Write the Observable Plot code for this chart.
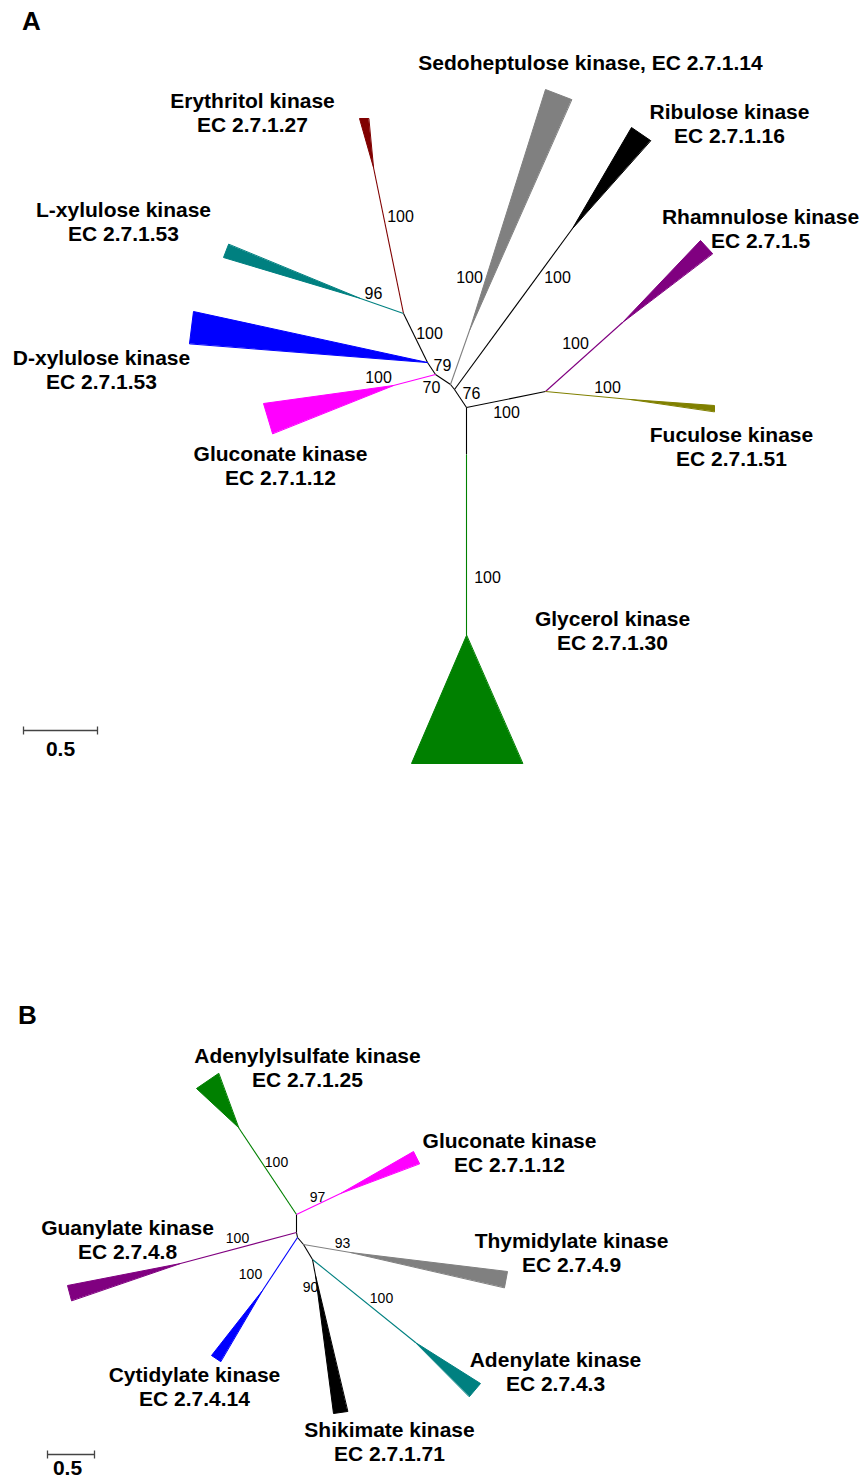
<!DOCTYPE html>
<html>
<head>
<meta charset="utf-8">
<script src="https://cdn.jsdelivr.net/npm/d3@7"></script>
<script src="https://cdn.jsdelivr.net/npm/@observablehq/plot@0.6"></script>
<style>
  html, body { margin: 0; padding: 0; background: #fff; }
  #chart svg { display: block; }
</style>
</head>
<body>
<div id="chart"></div>
<script>
// ---- clade categories and colours ----
const cladeKeys   = ["internal","ery","lxyl","dxyl","glucA","sed","rib","rham","fuc","gly",
                     "adsulf","glucB","guan","cyt","thym","aden","shik"];
const cladeColors = ["#000000","#800000","#008080","#0000ff","#ff00ff","#808080","#000000","#800080","#808000","#008000",
                     "#008000","#ff00ff","#800080","#0000ff","#808080","#008080","#000000"];

// ---- tree node layout (panel A and B) [id, x, y] ----
const nodes = [
  ["R",466,407],["G1",466,454],["Gtip",466,635],["F",545,391],["RhTip",622,322],["FuTip",630,399],
  ["N76",454,389],["RibTip",572,228],["Nsed",450,384],["SedTip",469,330],["N70",435,374],["GlTip",393,385],
  ["N79",427,362],["N100",403,313],["EryTip",373,167],["LxTip",360,298],
  ["B1",296,1214],["B2",296,1232],["B3",297,1237],["B4",303,1244],["B5",312,1259],
  ["AsTip",238,1127],["GbTip",340,1193],["GuTip",180,1263],["CyTip",262,1290],["ThTip",350,1252],
  ["AdTip",415,1342],["ShTip",315,1275]
];

// ---- branches [from, to, clade] ----
const branches = [
  ["R","G1","internal"],["R","F","internal"],["R","N76","internal"],["N76","Nsed","internal"],
  ["Nsed","N70","internal"],["N70","N79","internal"],["N79","N100","internal"],
  ["G1","Gtip","gly"],["F","RhTip","rham"],["F","FuTip","fuc"],["N76","RibTip","rib"],
  ["Nsed","SedTip","sed"],["N70","GlTip","glucA"],["N100","EryTip","ery"],["N100","LxTip","lxyl"],
  ["B1","B2","internal"],["B2","B3","internal"],["B3","B4","internal"],["B4","B5","internal"],
  ["B1","AsTip","adsulf"],["B1","GbTip","glucB"],["B2","GuTip","guan"],["B3","CyTip","cyt"],
  ["B4","ThTip","thym"],["B5","AdTip","aden"],["B5","ShTip","shik"]
];

// ---- collapsed clades: [clade, apex node, corner1 x,y, corner2 x,y] ----
const clades = [
  ["gly","Gtip",411,763,522,763],["rham","RhTip",700,240,712,253],["fuc","FuTip",714,405,714,411],
  ["rib","RibTip",631,127,650,140],["sed","SedTip",545,89,571,99],["glucA","GlTip",263,403,272,433],
  ["dxyl","N79",193,311,189,343],["ery","EryTip",359,118,368,118],["lxyl","LxTip",223,257,228,244],
  ["adsulf","AsTip",196,1088,218,1073],["glucB","GbTip",413,1151,419,1163],["guan","GuTip",67,1285,71,1300],
  ["cyt","CyTip",211,1355,220,1361],["thym","ThTip",507,1271,504,1287],["aden","AdTip",480,1383,469,1396],
  ["shik","ShTip",333,1413,347,1411]
];

// ---- clade names [text, x, y] ----
const cladeLabels = [
  ["Sedoheptulose kinase, EC 2.7.1.14",590,63],
  ["Erythritol kinase\nEC 2.7.1.27",252,113],
  ["Ribulose kinase\nEC 2.7.1.16",729,123.5],
  ["L-xylulose kinase\nEC 2.7.1.53",123,222],
  ["Rhamnulose kinase\nEC 2.7.1.5",760,229],
  ["D-xylulose kinase\nEC 2.7.1.53",101,370],
  ["Gluconate kinase\nEC 2.7.1.12",280,466],
  ["Fuculose kinase\nEC 2.7.1.51",731,447],
  ["Glycerol kinase\nEC 2.7.1.30",612,631],
  ["Adenylylsulfate kinase\nEC 2.7.1.25",307,1068],
  ["Gluconate kinase\nEC 2.7.1.12",509,1153],
  ["Guanylate kinase\nEC 2.7.4.8",127,1240],
  ["Thymidylate kinase\nEC 2.7.4.9",571,1253],
  ["Cytidylate kinase\nEC 2.7.4.14",194,1387],
  ["Adenylate kinase\nEC 2.7.4.3",555,1372],
  ["Shikimate kinase\nEC 2.7.1.71",389,1442]
];

// ---- bootstrap values [value, x, y] ----
const bootA = [
  ["100",400,216],["96",373,293],["100",429,333],["79",442,365],["70",431,387],["76",471,393],
  ["100",469,277],["100",557,277],["100",575,343],["100",607,387],["100",506,412],["100",487,577],
  ["100",378,377]
];
const bootB = [
  ["100",276,1162],["97",317,1197],["100",237,1238],["93",342,1243],["100",250,1274],["90",310,1287],
  ["100",381,1298]
];

// ---- panel letters and scale bars ----
const panels = [["A",31,21],["B",27,1015]];
const scaleBars = [
  {x1:23, x2:97, y:730, label:"0.5", lx:60, ly:749},
  {x1:47, x2:94, y:1454, label:"0.5", lx:67, ly:1468}
];

// ---- build tables for the marks ----
const pos = new Map(nodes.map(([id,x,y]) => [id,{x,y}]));
const links = branches.map(([a,b,c]) => ({x1:pos.get(a).x, y1:pos.get(a).y, x2:pos.get(b).x, y2:pos.get(b).y, clade:c}));
const triPts = clades.flatMap(([c,apex,x1,y1,x2,y2],i) => [
  {id:i, clade:c, x:pos.get(apex).x, y:pos.get(apex).y},
  {id:i, clade:c, x:x1, y:y1},
  {id:i, clade:c, x:x2, y:y2}
]);
const labels = cladeLabels.map(([t,x,y]) => ({t,x,y}));
const bA = bootA.map(([t,x,y]) => ({t,x,y}));
const bB = bootB.map(([t,x,y]) => ({t,x,y}));
const pl = panels.map(([t,x,y]) => ({t,x,y}));

const font = "Liberation Sans, Arial, Helvetica, sans-serif";

const chart = Plot.plot({
  width: 864,
  height: 1479,
  margin: 0,
  style: {background: "#fff", fontFamily: font},
  x: {domain: [0, 864], range: [0, 864], axis: null},
  y: {domain: [0, 1479], range: [0, 1479], axis: null},
  color: {type: "ordinal", domain: cladeKeys, range: cladeColors},
  marks: [
    Plot.link(links, {x1:"x1", y1:"y1", x2:"x2", y2:"y2", stroke:"clade", strokeWidth:1.1}),
    Plot.line(triPts, {x:"x", y:"y", z:"id", fill:"clade", stroke:"clade", strokeWidth:1, curve:"linear-closed"}),
    Plot.text(labels, {x:"x", y:"y", dy:-1, text:"t", fontSize:21, fontWeight:"bold", fill:"#000", lineAnchor:"middle", lineHeight:1.15, fontFamily: font}),
    Plot.text(bA, {x:"x", y:"y", text:"t", fontSize:16, fill:"#000", lineAnchor:"middle", fontFamily: font}),
    Plot.text(bB, {x:"x", y:"y", text:"t", fontSize:14, fill:"#000", lineAnchor:"middle", fontFamily: font}),
    Plot.text(pl, {x:"x", y:"y", text:"t", fontSize:26, fontWeight:"bold", fill:"#000", lineAnchor:"middle", fontFamily: font}),
    Plot.link(scaleBars, {x1:"x1", x2:"x2", y1:"y", y2:"y", stroke:"#444", strokeWidth:1.3}),
    Plot.link(scaleBars, {x1:"x1", x2:"x1", y1:d=>d.y-4, y2:d=>d.y+4, stroke:"#444", strokeWidth:1.3}),
    Plot.link(scaleBars, {x1:"x2", x2:"x2", y1:d=>d.y-4, y2:d=>d.y+4, stroke:"#444", strokeWidth:1.3}),
    Plot.text(scaleBars, {x:"lx", y:"ly", text:"label", fontSize:21, fontWeight:"bold", fill:"#000", lineAnchor:"middle", fontFamily: font})
  ]
});
document.getElementById("chart").appendChild(chart);
</script>
</body>
</html>
